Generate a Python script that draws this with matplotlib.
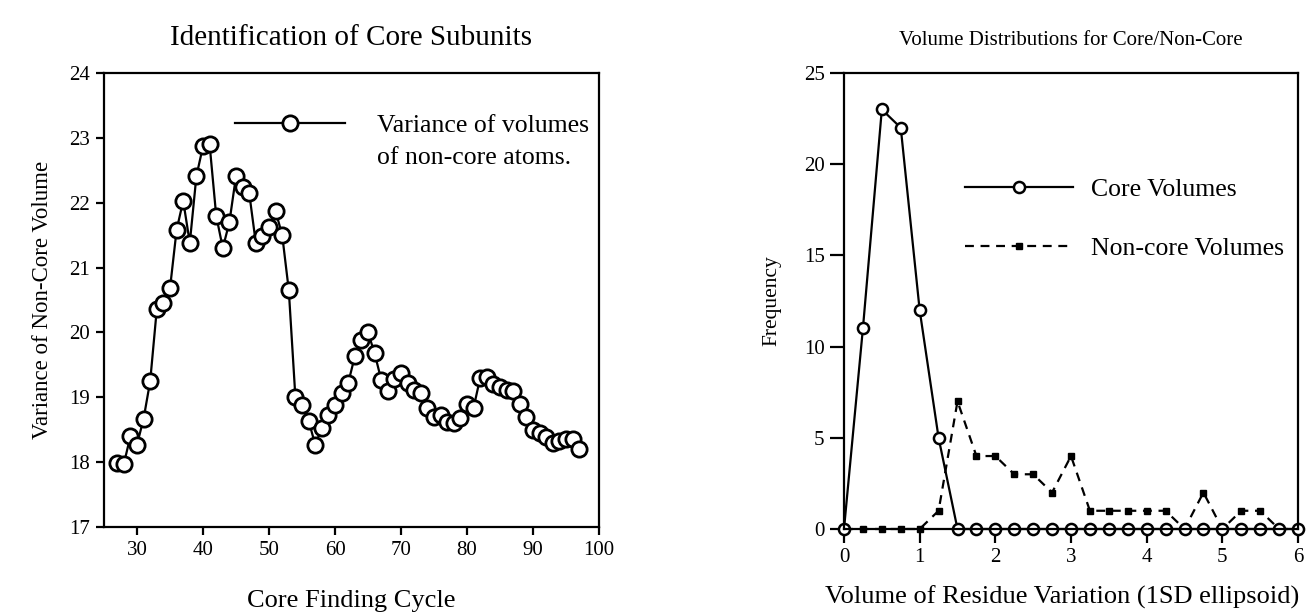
import matplotlib
matplotlib.use("Agg")
import matplotlib.pyplot as plt
import numpy as np
from matplotlib.lines import Line2D

plt.rcParams['font.family'] = ['Liberation Serif', 'DejaVu Serif']

# left panel: variance of non-core volume per core finding cycle
cycles = np.arange(27, 98)
variance = [17.98, 17.97, 18.40, 18.27, 18.67, 19.25, 20.36, 20.45, 20.68, 21.58,
            22.03, 21.38, 22.41, 22.87, 22.90, 21.80, 21.30, 21.70, 22.41, 22.25,
            22.15, 21.38, 21.48, 21.62, 21.87, 21.50, 20.65, 19.00, 18.88, 18.64,
            18.27, 18.52, 18.72, 18.88, 19.06, 19.22, 19.63, 19.88, 20.00, 19.68,
            19.27, 19.10, 19.28, 19.38, 19.22, 19.12, 19.06, 18.84, 18.70, 18.72,
            18.62, 18.60, 18.68, 18.90, 18.84, 19.30, 19.32, 19.20, 19.16, 19.12,
            19.10, 18.90, 18.70, 18.50, 18.45, 18.38, 18.30, 18.32, 18.36, 18.36,
            18.20]

# right panel: volume distributions
vol_bins = np.arange(0, 6.01, 0.25)
core_freq = [0, 11, 23, 22, 12, 5, 0, 0, 0, 0, 0, 0, 0,
             0, 0, 0, 0, 0, 0, 0, 0, 0, 0, 0, 0]
noncore_freq = [0, 0, 0, 0, 0, 1, 7, 4, 4, 3, 3, 2, 4,
                1, 1, 1, 1, 1, 0, 2, 0, 1, 1, 0, 0]

fig = plt.figure(figsize=(13.08, 6.15), dpi=100)
ax1 = fig.add_axes([104/1308, 1-527/615, 495/1308, 454/615])
ax2 = fig.add_axes([844/1308, 1-529/615, 454/1308, 456/615])

lw = 1.6
for ax in (ax1, ax2):
    for s in ax.spines.values():
        s.set_linewidth(1.6)
ax1.tick_params(direction='out', length=6, width=1.6, labelsize=15, pad=4,
                top=False, right=False)
ax2.tick_params(direction='out', length=10, width=1.6, labelsize=15, pad=4,
                top=False, right=False)

# ---- left ----
ax1.plot(cycles, variance, '-o', color='black', lw=lw, ms=11,
         mfc='white', mec='black', mew=2, clip_on=False,
         label='Variance of volumes')
ax1.set_xlim(25, 100)
ax1.set_ylim(17, 24)
ax1.set_xticks(range(30, 101, 10))
ax1.set_yticks(range(17, 25))
ax1.set_xlabel('Core Finding Cycle', fontsize=19, labelpad=22)
ax1.set_ylabel('Variance of Non-Core Volume', fontsize=16.5, labelpad=12)
ax1.set_title('Identification of Core Subunits', fontsize=21, pad=20)
h1, l1 = ax1.get_legend_handles_labels()
blank = Line2D([], [], color='none')
ax1.legend(h1 + [blank], l1 + ['of non-core atoms.'], loc='upper left',
           bbox_to_anchor=(0.217, 0.96), frameon=False, fontsize=18.5,
           handlelength=4.3, handletextpad=1.25, numpoints=1, labelspacing=0.35)

# ---- right ----
ax2.plot(vol_bins, noncore_freq, color='black', lw=lw, ls=(0, (4, 3)),
         marker='s', ms=5, mfc='black', mec='black', clip_on=False,
         label='Non-core Volumes')
ax2.plot(vol_bins, core_freq, '-o', color='black', lw=lw, ms=8,
         mfc='white', mec='black', mew=1.8, clip_on=False,
         label='Core Volumes')
ax2.set_xlim(0, 6)
ax2.set_ylim(0, 25)
ax2.set_xticks(range(0, 7))
ax2.set_yticks(range(0, 26, 5))
ax2.set_xlabel('Volume of Residue Variation (1SD ellipsoid)', fontsize=19)
ax2.xaxis.set_label_coords(0.48, -0.125)
ax2.set_ylabel('Frequency', fontsize=15.5, labelpad=16)
ax2.set_title('Volume Distributions for Core/Non-Core', fontsize=15, pad=20)
h2, l2 = ax2.get_legend_handles_labels()
ax2.legend(h2[::-1], l2[::-1], loc='upper left', bbox_to_anchor=(0.2156, 0.82),
           frameon=False, fontsize=18.5, handlelength=4.2, handletextpad=0.7,
           numpoints=1, labelspacing=1.4)

fig.savefig('out.png', dpi=100)
